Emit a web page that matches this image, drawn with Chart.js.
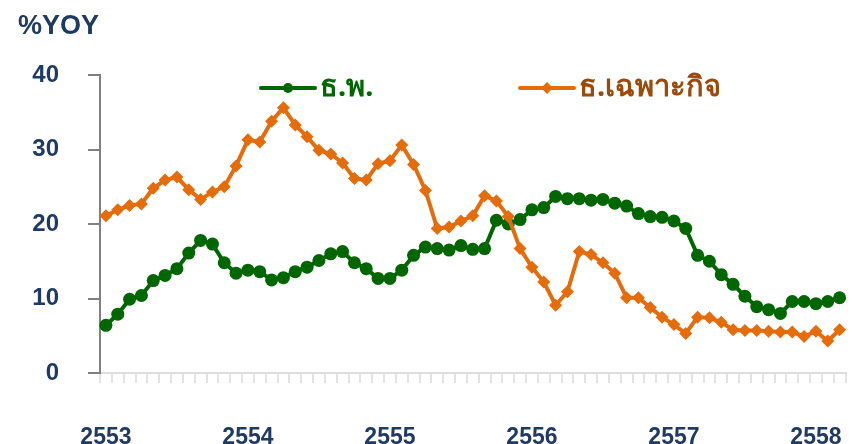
<!DOCTYPE html>
<html>
<head>
<meta charset="utf-8">
<script src="https://cdn.jsdelivr.net/npm/chart.js@4.4.1/dist/chart.umd.min.js"></script>
<style>
html,body{margin:0;padding:0;background:#fff;}
#wrap{position:relative;width:852px;height:444px;}
</style>
</head>
<body>
<div id="wrap"><canvas id="c"></canvas></div>
<script>
const yearLabels = ['2553','2554','2555','2556','2557','2558'];
const monthNames = ['ม.ค.','ก.พ.','มี.ค.','เม.ย.','พ.ค.','มิ.ย.','ก.ค.','ส.ค.','ก.ย.','ต.ค.','พ.ย.','ธ.ค.'];
const seriesNames = ['ธ.พ.', 'ธ.เฉพาะกิจ'];
const yTicks = [0, 10, 20, 30, 40];
const axisTitle = '%YOY';

const commercialBanks = [
  6.4, 7.9, 9.9, 10.4, 12.4, 13.1, 14.0, 16.1, 17.8, 17.3, 14.8, 13.4,
  13.8, 13.6, 12.5, 12.8, 13.6, 14.2, 15.1, 16.0, 16.3, 14.8, 14.0, 12.7,
  12.7, 13.8, 15.8, 16.9, 16.7, 16.5, 17.1, 16.6, 16.7, 20.5, 20.0, 20.6,
  21.9, 22.2, 23.7, 23.4, 23.4, 23.2, 23.3, 22.8, 22.4, 21.4, 21.0, 20.9,
  20.4, 19.4, 15.8, 15.0, 13.2, 11.9, 10.3, 8.9, 8.5, 8.0, 9.6, 9.6,
  9.3, 9.6, 10.1
];
const specializedBanks = [
  21.1, 21.9, 22.5, 22.7, 24.8, 25.9, 26.3, 24.6, 23.3, 24.3, 25.0, 27.8,
  31.3, 31.0, 33.8, 35.6, 33.3, 31.7, 29.9, 29.4, 28.2, 26.1, 25.9, 28.1,
  28.5, 30.6, 28.0, 24.5, 19.4, 19.6, 20.4, 21.1, 23.8, 23.1, 21.0, 16.7,
  14.2, 12.2, 9.1, 10.9, 16.3, 15.9, 14.8, 13.4, 10.1, 10.1, 8.8, 7.5,
  6.5, 5.3, 7.5, 7.4, 6.8, 5.8, 5.7, 5.7, 5.6, 5.5, 5.5, 4.9,
  5.6, 4.3, 5.8
];

// month categories built from the year labels (Jan 2553 .. Mar 2558)
const categories = [];
yearLabels.forEach(y => monthNames.forEach(m => categories.push(m + ' ' + y)));
categories.length = commercialBanks.length;

const GREEN = '#006600';
const ORANGE = '#E46C0A';
const NAVY = '#1F3A63';
const GREEN_TXT = '#006600';
const ORANGE_TXT = '#9A4A0A';

const overlay = {
  id: 'overlay',
  afterDraw(chart) {
    const ctx = chart.ctx;
    ctx.save();
    // axis unit title
    ctx.fillStyle = NAVY;
    ctx.font = 'bold 27px "Liberation Sans", Arial, sans-serif';
    ctx.textBaseline = 'alphabetic';
    ctx.textAlign = 'left';
    ctx.fillText(axisTitle, 18, 34);
    // legend
    const items = [
      {x: 261, color: GREEN, txt: GREEN_TXT, style: 'circle', label: seriesNames[0]},
      {x: 520, color: ORANGE, txt: ORANGE_TXT, style: 'rectRot', label: seriesNames[1]}
    ];
    const ly = 88;
    items.forEach(it => {
      ctx.strokeStyle = it.color;
      ctx.lineWidth = 4;
      ctx.lineCap = 'round';
      ctx.beginPath();
      ctx.moveTo(it.x, ly);
      ctx.lineTo(it.x + 54, ly);
      ctx.stroke();
      ctx.fillStyle = it.color;
      ctx.beginPath();
      if (it.style === 'circle') { ctx.arc(it.x + 27, ly, 5, 0, Math.PI * 2); }
      else { ctx.moveTo(it.x + 27, ly - 6); ctx.lineTo(it.x + 33, ly); ctx.lineTo(it.x + 27, ly + 6); ctx.lineTo(it.x + 21, ly); ctx.closePath(); }
      ctx.fill();
      ctx.fillStyle = it.txt;
      ctx.font = 'bold 29px "Noto Sans", Tahoma, "DejaVu Sans", sans-serif';
      ctx.textBaseline = 'middle';
      ctx.fillText(it.label, it.x + 59, ly);
    });
    ctx.restore();
  }
};

new Chart(document.getElementById('c'), {
  type: 'line',
  data: {
    labels: categories,
    datasets: [
      {
        label: seriesNames[1],
        data: specializedBanks,
        borderColor: ORANGE,
        backgroundColor: ORANGE,
        borderWidth: 4,
        pointStyle: 'rectRot',
        pointRadius: 6.5,
        pointBorderWidth: 0,
        tension: 0
      },
      {
        label: seriesNames[0],
        data: commercialBanks,
        borderColor: GREEN,
        backgroundColor: GREEN,
        borderWidth: 4,
        pointStyle: 'circle',
        pointRadius: 6.5,
        pointBorderWidth: 0,
        tension: 0
      }
    ]
  },
  options: {
    responsive: true,
    maintainAspectRatio: false,
    animation: false,
    layout: {padding: {top: 75, right: 0, left: 0, bottom: 0}},
    plugins: {legend: {display: false}, tooltip: {enabled: false}, title: {display: false}},
    scales: {
      x: {
        type: 'category',
        offset: true,
        grid: {offset: true, drawOnChartArea: false, drawTicks: true, tickLength: 10, color: '#E3E3E3', lineWidth: 2},
        border: {color: '#DDDDDD', width: 2},
        ticks: {
          autoSkip: false, maxRotation: 0, minRotation: 0, padding: 41,
          color: NAVY,
          font: {family: '"Liberation Sans", Arial, sans-serif', weight: 'bold', size: 23},
          callback: (v, i) => (i % 12 === 0 ? yearLabels[i / 12] : '')
        },
        afterFit: s => { s.height = 71; s.paddingLeft = 0; s.paddingRight = 0; }
      },
      y: {
        min: yTicks[0], max: yTicks[yTicks.length - 1],
        afterBuildTicks: s => { s.ticks = yTicks.map(v => ({value: v})); },
        grid: {drawOnChartArea: false, drawTicks: true, tickLength: 12, color: '#808080', lineWidth: 2},
        border: {color: '#808080', width: 2},
        ticks: {
          padding: 29, color: NAVY,
          font: {family: '"Liberation Sans", Arial, sans-serif', weight: 'bold', size: 24}
        },
        afterFit: s => { s.width = 100; }
      }
    }
  },
  plugins: [overlay]
});
</script>
</body>
</html>
